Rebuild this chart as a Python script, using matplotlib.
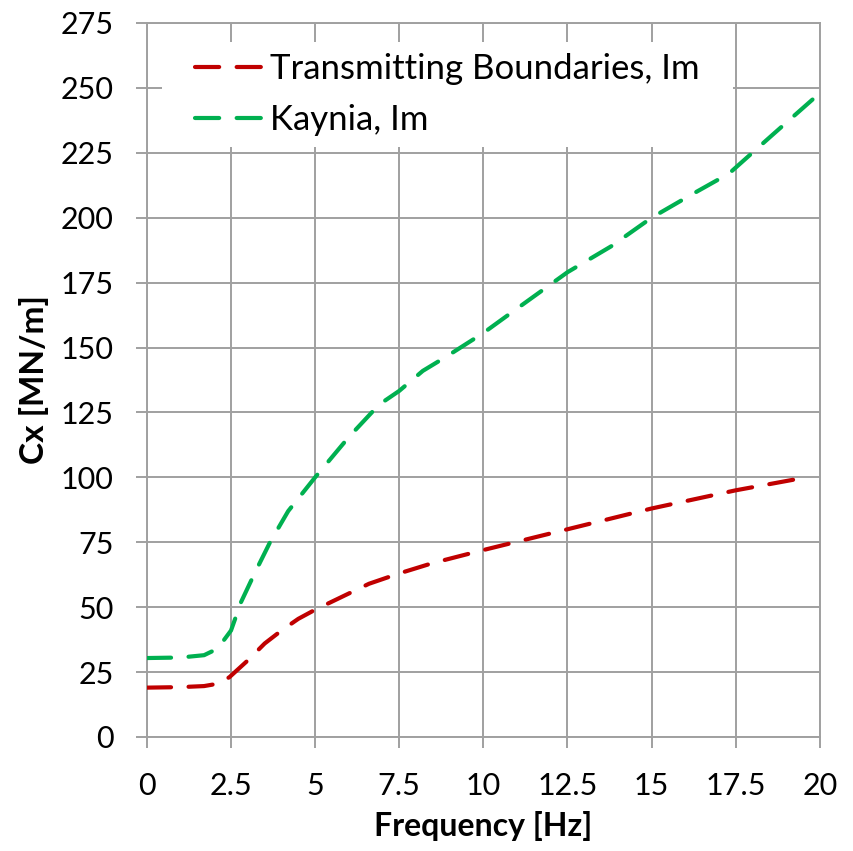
import matplotlib
matplotlib.use("Agg")
import matplotlib.pyplot as plt
from matplotlib.patches import Rectangle

# Imaginary part of the horizontal dashpot coefficient vs. frequency
freq_tb = [0, 1.0, 1.7, 2.1, 2.45, 3.0, 3.5, 4.0, 4.5, 5.0, 5.8, 6.6, 7.5,
           8.5, 10.0, 12.5, 15.0, 17.5, 19.6]
cx_tb = [19.0, 19.2, 19.6, 20.5, 23.0, 29.5, 36.0, 41.0, 45.5, 49.0, 54.0,
         59.0, 63.0, 67.0, 72.0, 80.0, 88.0, 95.0, 100.0]

freq_kay = [0, 1.0, 1.7, 2.1, 2.5, 2.8, 3.2, 3.66, 4.2, 5.0, 6.0, 6.9, 7.5,
            8.2, 8.9, 10.0, 11.0, 12.5, 13.8, 15.0, 16.2, 17.3, 18.6, 20.0]
cx_kay = [30.4, 30.6, 31.5, 34.0, 41.0, 52.0, 63.0, 75.0, 87.0, 100.0, 115.5,
          128.0, 133.3, 141.0, 146.5, 155.6, 165.0, 179.0, 189.0, 200.0,
          209.0, 217.0, 232.0, 248.0]

x_ticks = [0, 2.5, 5, 7.5, 10, 12.5, 15, 17.5, 20]
x_tick_labels = ["0", "2.5", "5", "7.5", "10", "12.5", "15", "17.5", "20"]
y_ticks = list(range(0, 276, 25))

plt.rcParams["font.family"] = ["Lato", "DejaVu Sans"]

fig = plt.figure(figsize=(8.54, 8.51), dpi=100)
ax = fig.add_axes([0.172, 0.134, 0.788, 0.839])

grid_c = "#a0a0a0"
dash = (0, (5.8, 4.2))
ax.plot(freq_tb, cx_tb, color="#c00000", lw=3.0, linestyle=dash,
        dash_capstyle="round", label="Transmitting Boundaries, Im", zorder=3)
ax.plot(freq_kay, cx_kay, color="#00b050", lw=3.0, linestyle=dash,
        dash_capstyle="round", label="Kaynia, Im", zorder=3)

ax.set_xlim(0, 20)
ax.set_ylim(0, 275)
ax.set_xticks(x_ticks)
ax.set_xticklabels(x_tick_labels)
ax.set_yticks(y_ticks)
ax.grid(True, color=grid_c, lw=1.4)
ax.set_axisbelow(True)
for s in ax.spines.values():
    s.set_color(grid_c)
    s.set_linewidth(1.4)
ax.tick_params(axis="both", direction="out", length=8, width=1.4,
               color=grid_c, labelsize=22)
ax.tick_params(axis="x", pad=17)
ax.tick_params(axis="y", pad=16)

ax.set_xlabel("Frequency [Hz]", fontsize=23, fontweight="bold", labelpad=8)
ax.set_ylabel("Cx [MN/m]", fontsize=24, fontweight="bold", labelpad=8)

# white legend area over the gridlines
ax.add_patch(Rectangle((0.022, 0.826), 0.849, 0.147, transform=ax.transAxes,
                       facecolor="white", edgecolor="none", zorder=1))

leg = ax.legend(loc="upper left", bbox_to_anchor=(0.0713, 0.958), fontsize=25,
                frameon=False, handlelength=1.95, handletextpad=0.2,
                labelspacing=0.55, borderpad=0.0, borderaxespad=0.0)

fig.savefig("out.png", dpi=100, facecolor="white")
